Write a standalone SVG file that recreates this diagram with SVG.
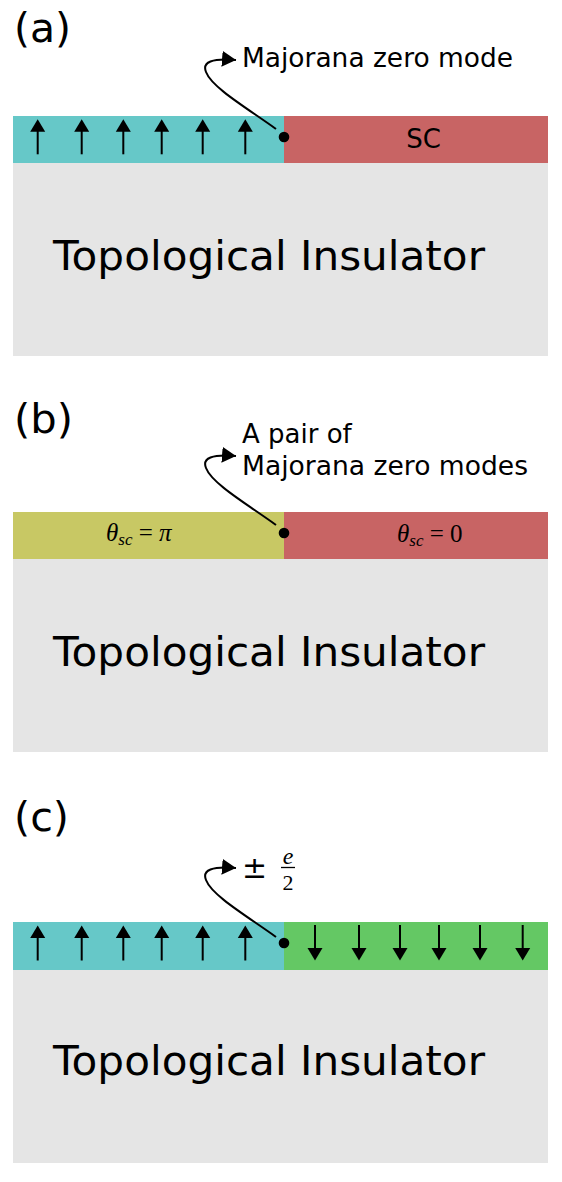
<svg xmlns="http://www.w3.org/2000/svg" width="562" height="1182" viewBox="0 0 562 1182">
<style>
.lbl{font-family:"DejaVu Sans",Verdana,sans-serif;fill:#000}
.panel{font-size:41px}
.note{font-size:26px}
.ti{font-size:40px}
.math{font-family:"Liberation Serif","DejaVu Serif",serif;fill:#000}
.cyan{fill:#66C8C8}.red{fill:#C86464}.olive{fill:#C8C864}.green{fill:#64C864}.gray{fill:#E5E5E5}
.conn{fill:none;stroke:#000;stroke-width:2}
.spin{stroke:#000;stroke-width:2}
</style>
<defs>
<marker id="ah" markerUnits="userSpaceOnUse" markerWidth="16" markerHeight="18" refX="14" refY="8" orient="auto">
<path d="M0,0 L14,8 L0,16 Z" fill="#000"/>
</marker>
<g id="up"><line class="spin" x1="0" y1="35" x2="0" y2="10"/><path d="M-7.5,12.5 L0,0 L7.5,12.5 Z" fill="#000"/></g>
<g id="down"><line class="spin" x1="0" y1="0" x2="0" y2="25"/><path d="M-7.5,23 L0,35.5 L7.5,23 Z" fill="#000"/></g>
</defs>

<!-- Panel (a) -->
<g id="label-a"><text class="lbl panel" x="14" y="42" textLength="57" lengthAdjust="spacingAndGlyphs">(a)</text></g>
<g id="ti-a"><rect class="gray" x="13" y="163" width="535" height="193"/><text class="lbl ti" x="53" y="270" textLength="432" lengthAdjust="spacingAndGlyphs">Topological Insulator</text></g>
<g id="magnet-a"><rect class="cyan" x="13" y="116" width="271" height="47"/>
<use href="#up" x="37.7" y="119.3"/><use href="#up" x="81.7" y="119.3"/><use href="#up" x="123.3" y="119.3"/><use href="#up" x="161.7" y="119.3"/><use href="#up" x="202.7" y="119.3"/><use href="#up" x="245.3" y="119.3"/></g>
<g id="sc-a"><rect class="red" x="284" y="116" width="264" height="47"/><text class="lbl note" x="423.5" y="148" text-anchor="middle">SC</text></g>
<g id="mzm-a"><circle cx="284" cy="137" r="5.3" fill="#000"/><text class="lbl note" x="242" y="67" textLength="271" lengthAdjust="spacingAndGlyphs">Majorana zero mode</text></g>

<!-- Panel (b) -->
<g id="label-b"><text class="lbl panel" x="14" y="433" textLength="59" lengthAdjust="spacingAndGlyphs">(b)</text></g>
<g id="ti-b"><rect class="gray" x="13" y="559" width="535" height="193"/><text class="lbl ti" x="53" y="666" textLength="432" lengthAdjust="spacingAndGlyphs">Topological Insulator</text></g>
<g id="sc-pi-b"><rect class="olive" x="13" y="512" width="271" height="47"/>
<text class="math" x="106" y="541" font-size="25"><tspan font-style="italic">θ</tspan><tspan font-style="italic" font-size="17" dy="4">sc</tspan><tspan dy="-4" xml:space="preserve"> = </tspan><tspan font-style="italic">π</tspan></text></g>
<g id="sc-0-b"><rect class="red" x="284" y="512" width="264" height="47"/>
<text class="math" x="397" y="542" font-size="25"><tspan font-style="italic">θ</tspan><tspan font-style="italic" font-size="17" dy="4">sc</tspan><tspan dy="-4" xml:space="preserve"> = 0</tspan></text></g>
<g id="mzm-b"><circle cx="284" cy="533" r="5.3" fill="#000"/>
<text class="lbl note" x="242" y="443">A pair of</text>
<text class="lbl note" x="242" y="475" textLength="286" lengthAdjust="spacingAndGlyphs">Majorana zero modes</text></g>

<!-- Panel (c) -->
<g id="label-c"><text class="lbl panel" x="14" y="831" textLength="55" lengthAdjust="spacingAndGlyphs">(c)</text></g>
<g id="ti-c"><rect class="gray" x="13" y="970" width="535" height="193"/><text class="lbl ti" x="53" y="1075" textLength="432" lengthAdjust="spacingAndGlyphs">Topological Insulator</text></g>
<g id="magnet-up-c"><rect class="cyan" x="13" y="922" width="271" height="48"/>
<use href="#up" x="37.7" y="925.5"/><use href="#up" x="81.7" y="925.5"/><use href="#up" x="123.3" y="925.5"/><use href="#up" x="161.7" y="925.5"/><use href="#up" x="202.7" y="925.5"/><use href="#up" x="245.3" y="925.5"/></g>
<g id="magnet-down-c"><rect class="green" x="284" y="922" width="264" height="48"/>
<use href="#down" x="315" y="925"/><use href="#down" x="359" y="925"/><use href="#down" x="400" y="925"/><use href="#down" x="439" y="925"/><use href="#down" x="480" y="925"/><use href="#down" x="522.7" y="925"/></g>
<g id="charge-c"><circle cx="284" cy="943" r="5.3" fill="#000"/>
<text x="242" y="878" font-size="30" font-family="DejaVu Sans,sans-serif" fill="#000">±</text>
<text class="math" x="288" y="864" font-size="24" font-style="italic" text-anchor="middle">e</text>
<line x1="281" y1="867.5" x2="295" y2="867.5" stroke="#000" stroke-width="1.3"/>
<text class="math" x="288" y="889.5" font-size="22" text-anchor="middle">2</text></g>

<g id="connectors">
<path class="conn" marker-end="url(#ah)" d="M276,129 C250,110 212,88 206,72 C202,62 212,58 236,60"/>
<path class="conn" marker-end="url(#ah)" d="M276,525 C250,506 212,484 206,468 C202,458 212,454 236,456"/>
<path class="conn" marker-end="url(#ah)" d="M276,937 C250,918 212,896 206,880 C202,870 212,866 236,868"/>
</g>
</svg>
